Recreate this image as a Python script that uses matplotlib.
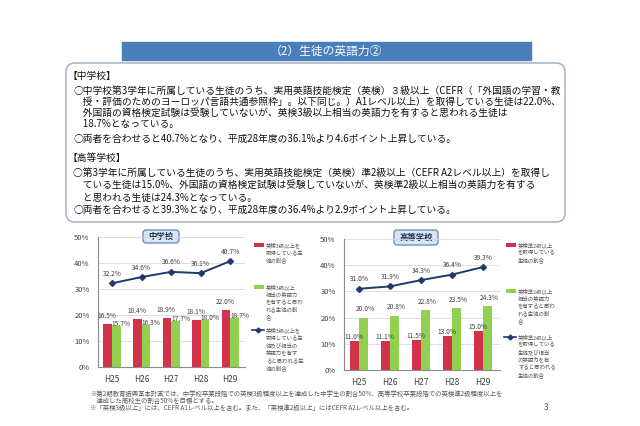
import numpy as np
import matplotlib
matplotlib.use('Agg')
import matplotlib.pyplot as plt
from matplotlib.patches import FancyBboxPatch, Rectangle
from matplotlib.lines import Line2D

plt.rcParams['font.family'] = ['Noto Sans CJK JP', 'DejaVu Sans']

# %% data
years = ['H25', 'H26', 'H27', 'H28', 'H29']

# 中学校 (英検3級)
jhs_acquired = [16.5, 18.4, 18.9, 18.1, 22.0]
jhs_equivalent = [15.7, 16.3, 17.7, 18.0, 18.7]
jhs_total = [32.2, 34.6, 36.6, 36.1, 40.7]

# 高等学校 (英検準2級)
hs_acquired = [11.0, 11.1, 11.5, 13.0, 15.0]
hs_equivalent = [20.0, 20.8, 22.8, 23.5, 24.3]
hs_total = [31.0, 31.9, 34.3, 36.4, 39.3]

yticks = [0, 10, 20, 30, 40, 50]

jhs_legend = [
    ['英検3級以上を', '取得している生', '徒の割合'],
    ['英検3級以上', '相当の英語力', 'を有すると思わ', 'れる生徒の割', '合'],
    ['英検3級以上を', '取得している生', '徒及び相当の', '英語力を有す', 'ると思われる生', '徒の割合'],
]
hs_legend = [
    ['英検準2級以上', 'を取得している', '生徒の割合'],
    ['英検準2級以上', '相当の英語力', 'を有すると思わ', 'れる生徒の割', '合'],
    ['英検準2級以上', 'を取得している', '生徒及び相当', 'の英語力を有', 'すると思われる', '生徒の割合'],
]

title = '（2）生徒の英語力②'
jhs_summary = [
    '【中学校】',
    '○中学校第3学年に所属している生徒のうち、実用英語技能検定（英検）３級以上（CEFR（「外国語の学習・教',
    '　授・評価のためのヨーロッパ言語共通参照枠」。以下同じ。）A1レベル以上）を取得している生徒は22.0%、',
    '　外国語の資格検定試験は受験していないが、英検3級以上相当の英語力を有すると思われる生徒は',
    '　18.7%となっている。',
    '○両者を合わせると40.7%となり、平成28年度の36.1%より4.6ポイント上昇している。',
]
hs_summary = [
    '【高等学校】',
    '○第3学年に所属している生徒のうち、実用英語技能検定（英検）準2級以上（CEFR A2レベル以上）を取得し',
    '　ている生徒は15.0%、外国語の資格検定試験は受験していないが、英検準2級以上相当の英語力を有する',
    '　と思われる生徒は24.3%となっている。',
    '○両者を合わせると39.3%となり、平成28年度の36.4%より2.9ポイント上昇している。',
]
footnotes = [
    '※第2期教育振興基本計画では、中学校卒業段階での英検3級程度以上を達成した中学生の割合50%、高等学校卒業段階での英検準2級程度以上を',
    '　達成した高校生の割合50%を目標とする。',
    '※「英検3級以上」には、CEFR A1レベル以上を含む。また、「英検準2級以上」にはCEFR A2レベル以上を含む。',
]

# %% styles
RED = '#d2324a'
GREEN = '#92d050'
NAVY = '#1f3b6e'
LABEL = '#404040'
W, H = 640, 426

fig = plt.figure(figsize=(6.4, 4.26), dpi=100)

# background axes in pixel units for the slide layout
bg = fig.add_axes([0, 0, 1, 1])
bg.set_xlim(0, W)
bg.set_ylim(H, 0)
bg.axis('off')


def px_rect(l, t, r, b):
    return [l / W, 1 - b / H, (r - l) / W, (b - t) / H]


# title bar
bg.add_patch(Rectangle((122, 42), 409, 18, color='#4a7ebb', zorder=1))
bg.text(326, 51, title, color='white', fontsize=8.5, ha='center', va='center')

# summary box
bg.add_patch(FancyBboxPatch((66, 63), 499, 159,
                            boxstyle='round,pad=0,rounding_size=9',
                            fc='white', ec='#9aabbf', lw=1.0, zorder=1))


def draw_lines(lines, x, y0, step, **kw):
    for i, line in enumerate(lines):
        bg.text(x, y0 + i * step, line, va='center', ha='left', **kw)


draw_lines(jhs_summary[:1], 68, 76, 11, fontsize=7, color='#111111')
draw_lines(jhs_summary[1:5], 73, 91, 11, fontsize=7, color='#111111')
draw_lines(jhs_summary[5:], 73, 139, 11, fontsize=7, color='#111111')
draw_lines(hs_summary[:1], 68, 158, 12, fontsize=7, color='#111111')
draw_lines(hs_summary[1:], 73, 173, 12.3, fontsize=7, color='#111111')


def draw_chart(rect, acquired, equivalent, total, xlim, red_dy, green_dx, green_dy):
    ax = fig.add_axes(rect)
    x = np.arange(len(years))
    w = 0.29
    ax.bar(x - w / 2, acquired, w, color=RED, zorder=2)
    ax.bar(x + w / 2, equivalent, w, color=GREEN, zorder=2)
    ax.plot(x, total, color=NAVY, marker='D', ms=3, lw=1.4, zorder=4)
    for i in x:
        ax.text(i - 0.17, acquired[i] + red_dy, f'{acquired[i]:.1f}%',
                ha='center', va='center', fontsize=4.8, color=LABEL, zorder=5)
        ax.text(i + green_dx, equivalent[i] + green_dy, f'{equivalent[i]:.1f}%',
                ha='center', va='center', fontsize=4.8, color=LABEL, zorder=5)
        ax.text(i, total[i] + 3.6, f'{total[i]:.1f}%',
                ha='center', va='center', fontsize=4.8, color=LABEL, zorder=5)
    ax.set_xlim(*xlim)
    ax.set_ylim(0, 50)
    ax.set_yticks(yticks)
    ax.set_yticklabels([f'{v}%' for v in yticks])
    ax.set_xticks(x)
    ax.set_xticklabels(years)
    ax.yaxis.grid(True, color='#d9d9d9', lw=0.6)
    ax.set_axisbelow(True)
    for s in ['top', 'right']:
        ax.spines[s].set_visible(False)
    ax.spines['left'].set_color('#8c8c8c')
    ax.spines['bottom'].set_color('#8c8c8c')
    ax.tick_params(axis='y', length=0, labelsize=5.5, labelcolor=LABEL, pad=6)
    ax.tick_params(axis='x', length=0, labelsize=6, labelcolor=LABEL, pad=6)
    ax.patch.set_alpha(0)
    return ax


draw_chart(px_rect(98, 237, 245, 367), jhs_acquired, jhs_equivalent, jhs_total,
           (-0.475, 4.5), 3.1, 0.32, 0.8)
draw_chart(px_rect(344, 239, 500, 370), hs_acquired, hs_equivalent, hs_total,
           (-0.48, 4.55), 1.6, 0.2, 3.1)


def title_box(x0, x1, y0, y1, text):
    bg.add_patch(FancyBboxPatch((x0, y0), x1 - x0, y1 - y0,
                                boxstyle='round,pad=0,rounding_size=3',
                                fc='#dbe5f1', ec='#5b87c0', lw=0.9, zorder=6))
    bg.text((x0 + x1) / 2, (y0 + y1) / 2, text, ha='center', va='center',
            fontsize=6, color='#1b2f50', fontweight='bold', zorder=7)


title_box(143, 179, 230, 243, '中学校')
title_box(394, 438, 230, 245, '高等学校')


def draw_legend(x, ys, texts):
    kinds = ['bar_red', 'bar_green', 'line']
    for kind, y, lines in zip(kinds, ys, texts):
        if kind == 'bar_red':
            bg.add_patch(Rectangle((x - 12, y - 1.8), 10, 3.6, color=RED, lw=0))
        elif kind == 'bar_green':
            bg.add_patch(Rectangle((x - 12, y - 1.8), 10, 3.6, color=GREEN, lw=0))
        else:
            bg.add_line(Line2D([x - 14, x - 2], [y, y], color=NAVY, lw=1.2))
            bg.plot([x - 8], [y], marker='D', ms=2.5, color=NAVY)
        draw_lines(lines, x, y, 7.6, fontsize=3.9, color='#595959')


draw_legend(266, [245, 287, 330], jhs_legend)
draw_legend(518, [245, 291, 337], hs_legend)

# footnotes and page number
bg.text(90, 394, footnotes[0], fontsize=4.6, color='#595959', va='center')
bg.text(90, 401, footnotes[1], fontsize=4.6, color='#595959', va='center')
bg.text(90, 408, footnotes[2], fontsize=4.6, color='#595959', va='center')
bg.text(546, 408, '3', fontsize=6, color='#595959', ha='center', va='center')

fig.savefig('out.png', dpi=100)
